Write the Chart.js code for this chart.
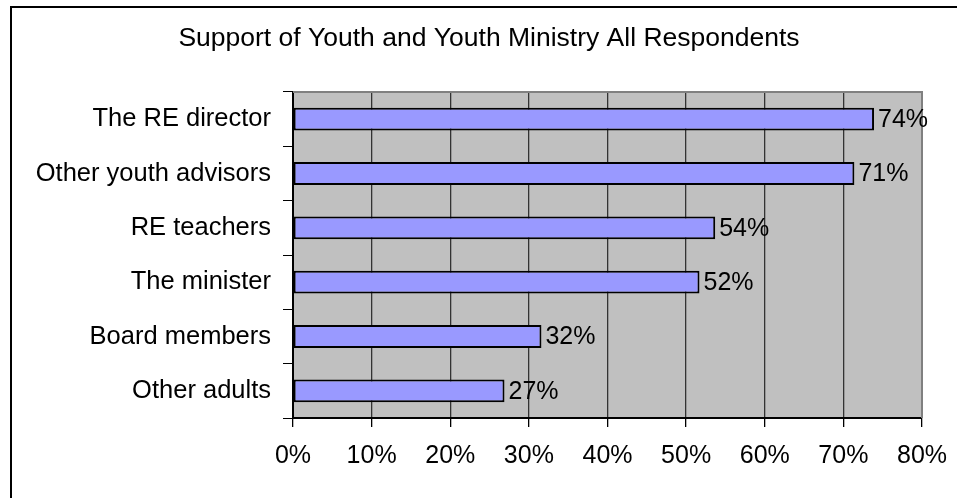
<!DOCTYPE html>
<html>
<head>
<meta charset="utf-8">
<script src="https://cdn.jsdelivr.net/npm/chart.js@4.4.1/dist/chart.umd.min.js"></script>
<style>
  html, body { margin: 0; padding: 0; background: #fff; }
  #wrap { position: relative; width: 957px; height: 498px; }
</style>
</head>
<body>
<div id="wrap"><canvas id="chart" width="957" height="498"></canvas></div>
<script>
// Support of Youth and Youth Ministry
const chartTitle = 'Support of Youth and Youth Ministry All Respondents';
const categories = ['The RE director', 'Other youth advisors', 'RE teachers',
                    'The minister', 'Board members', 'Other adults'];
const support    = [73.9, 71.4, 53.7, 51.7, 31.6, 26.9];
const xTicks     = [0, 10, 20, 30, 40, 50, 60, 70, 80];

const FONT = "'Liberation Sans', Arial, sans-serif";

// gray plot background, gray top/right edge, outer frame and the title
const frame = {
  id: 'frame',
  beforeDraw(chart) {
    const { ctx, chartArea: a } = chart;
    ctx.save();
    ctx.fillStyle = '#000';
    ctx.fillRect(10, 6, 960, 2);
    ctx.fillRect(10, 6, 2, 500);
    ctx.fillStyle = '#c0c0c0';
    ctx.fillRect(a.left, a.top, a.right - a.left, a.bottom - a.top);
    // title sits centred over the whole (partly cropped) chart box
    ctx.fillStyle = '#000';
    ctx.font = `26.5px ${FONT}`;
    ctx.textAlign = 'center';
    ctx.textBaseline = 'middle';
    ctx.fillText(chartTitle, 489, 39);
    ctx.restore();
  },
  afterDatasetsDraw(chart) {
    const { ctx, chartArea: a } = chart;
    ctx.save();
    ctx.strokeStyle = '#808080';
    ctx.lineWidth = 2;
    ctx.beginPath();
    ctx.moveTo(a.left, a.top);
    ctx.lineTo(a.right, a.top);
    ctx.lineTo(a.right, a.bottom);
    ctx.stroke();
    ctx.restore();
  }
};

// percentage labels at the bar ends
const valueLabels = {
  id: 'valueLabels',
  afterDatasetsDraw(chart) {
    const { ctx } = chart;
    ctx.save();
    ctx.fillStyle = '#000';
    ctx.font = `25px ${FONT}`;
    ctx.textAlign = 'left';
    ctx.textBaseline = 'middle';
    chart.getDatasetMeta(0).data.forEach((bar, i) => {
      ctx.fillText(Math.round(support[i]) + '%', bar.x + 4, bar.y + 1);
    });
    ctx.restore();
  }
};

new Chart(document.getElementById('chart'), {
  type: 'bar',
  data: {
    labels: categories,
    datasets: [{
      data: support,
      backgroundColor: '#9999ff',
      borderColor: '#000',
      borderWidth: 2,
      borderSkipped: false,
      barPercentage: 0.42,
      categoryPercentage: 1,
    }],
  },
  options: {
    indexAxis: 'y',
    responsive: false,
    animation: false,
    layout: { padding: { left: 14, right: 35, top: 92, bottom: 0 } },
    plugins: {
      legend: { display: false },
      tooltip: { enabled: false },
      title: { display: false },
    },
    scales: {
      x: {
        min: 0,
        max: 80,
        afterBuildTicks(scale) { scale.ticks = xTicks.map(v => ({ value: v })); },
        afterFit(scale) {
          scale.height = 80;
          // let the layout padding alone decide where the plot ends
          scale.paddingLeft = 0;
          scale.paddingRight = 0;
        },
        grid: {
          color: ctx => (ctx.tick && ctx.tick.value === 80 ? '#808080' : '#333'),
          lineWidth: 1.3,
          tickLength: 9,
          tickColor: '#000',
        },
        border: { display: true, color: '#000', width: 2 },
        ticks: {
          color: '#000',
          padding: 14,
          font: { family: FONT, size: 25 },
          callback: v => v + '%',
        },
      },
      y: {
        afterFit(scale) { scale.width = 293 - 14; },
        grid: {
          drawOnChartArea: false,
          tickLength: 10,
          tickColor: '#000',
          offset: true,
        },
        border: { display: true, color: '#000', width: 2 },
        ticks: {
          color: '#000',
          padding: 12,
          font: { family: FONT, size: 25.5 },
        },
      },
    },
  },
  plugins: [frame, valueLabels],
});
</script>
</body>
</html>
